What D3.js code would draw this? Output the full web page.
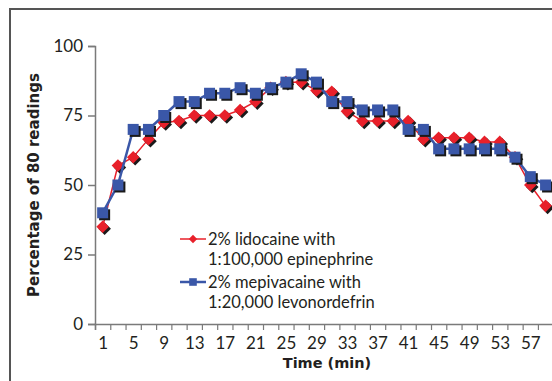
<!DOCTYPE html>
<html>
<head>
<meta charset="utf-8">
<script src="https://cdn.jsdelivr.net/npm/d3@7"></script>
<style>
  html, body { margin: 0; padding: 0; background: #fff; }
  svg { display: block; }
</style>
</head>
<body>
<svg id="chart" width="552" height="381"></svg>
<script>
// Time points (min)
const minutes = [1,3,5,7,9,11,13,15,17,19,21,23,25,27,29,31,33,35,37,39,41,43,45,47,49,51,53,55,57,59];
// X tick labels
const xTickLabels = [1,5,9,13,17,21,25,29,33,37,41,45,49,53,57];
// Y tick labels
const yTickLabels = [0,25,50,75,100];
// Series names
const seriesNames = [["2% lidocaine with", "1:100,000 epinephrine"], ["2% mepivacaine with", "1:20,000 levonordefrin"]];
// Percentage of 80 readings
const lidocaine = [35,57,60,66.5,72.5,73,75,75,75,77,80,85,87,87,84,83.5,76.5,73,73,73,73,66.5,67,67,67,65.5,65.5,60,50,42.5];
const mepivacaine = [40,50,70,70,75,80,80,83,83,85,83,85,87,90,87,80,80,77,77,77,70,70,63,63,63,63,63,60,53,50];

const svg = d3.select("#chart");
const W = 552, H = 381;
const RED = "#e8202a", BLUE = "#3a57a8", AXIS = "#7a7a7a", TXT = "#231f20";
const FS = 17;
const REG = "Lato, 'Open Sans', sans-serif";
const BOLD = "'DejaVu Sans', sans-serif";

// frame (top and left edges visible)
svg.append("path")
  .attr("d", `M10,${H} L10,9 L${W},9`)
  .attr("fill", "none").attr("stroke", "#555").attr("stroke-width", 2);

const x = d3.scaleLinear().domain([0, 60]).range([95, 553.2]);
const y = d3.scaleLinear().domain([0, 100]).range([324, 46]);

// Y axis
const yAxis = svg.append("g").attr("transform", `translate(${x(0)},0)`)
  .call(d3.axisLeft(y).tickValues(yTickLabels).tickSize(7).tickPadding(5).tickFormat(d3.format("d")));
yAxis.select(".domain").attr("stroke", AXIS).attr("stroke-width", 1.5);
yAxis.selectAll(".tick line").attr("stroke", AXIS).attr("stroke-width", 1.5);
yAxis.selectAll(".tick text").style("font-size", FS + "px").style("font-family", REG).attr("fill", TXT);

// X axis: ticks at category boundaries
const xTicks = svg.append("g").attr("transform", `translate(0,${y(0)})`)
  .call(d3.axisBottom(x).tickValues(d3.range(0, 61, 2)).tickSize(6).tickFormat(""));
xTicks.select(".domain").attr("stroke", AXIS).attr("stroke-width", 1.5);
xTicks.selectAll(".tick line").attr("stroke", AXIS).attr("stroke-width", 1.2);

// X labels at category centers
const xLabels = svg.append("g").attr("transform", `translate(0,${y(0)})`)
  .call(d3.axisBottom(x).tickValues(xTickLabels).tickSize(0).tickPadding(12.5).tickFormat(d3.format("d")));
xLabels.select(".domain").remove();
xLabels.selectAll(".tick text").style("font-size", FS + "px").style("font-family", REG).attr("fill", TXT);

// Axis titles
svg.append("text")
  .attr("transform", `translate(39,${(y(0) + y(100)) / 2}) rotate(-90)`)
  .attr("text-anchor", "middle")
  .style("font-family", BOLD).style("font-size", "15px").style("font-weight", "bold")
  .attr("fill", TXT)
  .text("Percentage of 80 readings");
svg.append("text")
  .attr("x", 327).attr("y", 368)
  .attr("text-anchor", "middle")
  .style("font-family", BOLD).style("font-size", "14.5px").style("font-weight", "bold")
  .attr("fill", TXT)
  .text("Time (min)");

const line = d3.line().x((d, i) => x(minutes[i])).y(d => y(d));

const diamond = s => `M0,${-s} L${s},0 L0,${s} L${-s},0 Z`;
const square = s => `M${-s},${-s} H${s} V${s} H${-s} Z`;

function drawSeries(data, color, width, shape, size) {
  const g = svg.append("g");
  g.append("path").datum(data).attr("d", line)
    .attr("fill", "none").attr("stroke", color).attr("stroke-width", width);
  const pts = g.selectAll("g.pt").data(data).enter().append("g")
    .attr("transform", (d, i) => `translate(${x(minutes[i])},${y(d)})`);
  pts.append("path").attr("d", shape(size)).attr("transform", "translate(2,2)").attr("fill", "#1a1a1a");
  pts.append("path").attr("d", shape(size)).attr("fill", color);
}

drawSeries(lidocaine, RED, 1.5, diamond, 6.3);
drawSeries(mepivacaine, BLUE, 2.5, square, 5.5);

// Legend
const legend = svg.append("g");
const legendRows = [
  {y: 239, color: RED, width: 1.5, shape: diamond(4.2), lines: seriesNames[0]},
  {y: 282, color: BLUE, width: 2.5, shape: square(3.8), lines: seriesNames[1]}
];
legendRows.forEach(r => {
  legend.append("line").attr("x1", 180).attr("x2", 206).attr("y1", r.y).attr("y2", r.y)
    .attr("stroke", r.color).attr("stroke-width", r.width);
  legend.append("path").attr("d", r.shape).attr("transform", `translate(193,${r.y})`).attr("fill", r.color);
  r.lines.forEach((t, k) => {
    legend.append("text").attr("x", 208).attr("y", r.y + k * 20.5).attr("dy", "0.35em")
      .style("font-size", "16.5px").style("font-family", REG).attr("fill", TXT).text(t);
  });
});
</script>
</body>
</html>
